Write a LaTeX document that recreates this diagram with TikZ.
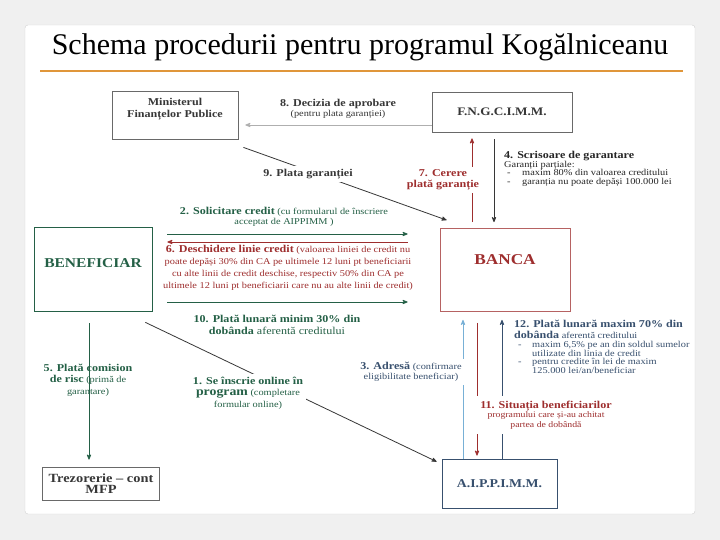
\documentclass[tikz,border=0pt]{standalone}
\usepackage{fontspec}
\setmainfont{Liberation Serif}[FakeStretch=1.15]
\newfontfamily\titlu{Liberation Serif}
\usetikzlibrary{arrows}

\definecolor{verde}{RGB}{36,96,70}
\definecolor{rosu}{RGB}{158,46,46}
\definecolor{albastru}{RGB}{56,80,110}
\definecolor{bleu}{RGB}{120,176,214}
\definecolor{gri}{RGB}{55,55,55}
\definecolor{portocaliu}{RGB}{224,150,58}

\newcommand{\mare}{\fontsize{10.5}{11.5}\selectfont\bfseries}
\newcommand{\mic}{\fontsize{9}{10}\selectfont\mdseries}

\begin{document}
\begin{tikzpicture}[x=1pt,y=-1pt,->,>=stealth',shorten >=0pt,
        box/.style={draw=gri!75,line width=0.8pt,rectangle,inner sep=0pt,align=center,text=gri},
        txt/.style={align=center,inner sep=1pt,text=gri},
        gol/.style={fill=white,inner sep=3pt},
        linie/.style={line width=0.8pt}]

  \fill[gray!12] (0,0) rectangle (720,540);
  \fill[white,draw=gray!35,rounded corners=3pt] (25,25) rectangle (695,514);
  \useasboundingbox (0,0) rectangle (720,540);

  \node[font=\titlu\fontsize{30}{34}\selectfont] (Titlu) at (360,47) {Schema procedurii pentru programul Kogălniceanu};
  \draw[-,portocaliu,line width=2pt] (40,71) -- (683,71);

  \node[box,minimum width=126pt,minimum height=48pt,
        label={[txt,anchor=north,yshift=-6pt,font=\fontsize{10.5}{12}\selectfont\bfseries]north:{Ministerul\\Finanțelor Publice}}] (Ministerul) at (175,115) {};
  \node[box,minimum width=140pt,minimum height=40pt,font=\fontsize{11.5}{14}\selectfont\bfseries] (FNG) at (502,112) {F.N.G.C.I.M.M.};
  \node[box,draw=verde,minimum width=118pt,minimum height=84pt,
        label={[text=verde,anchor=center,yshift=-36pt,font=\fontsize{13.5}{16}\selectfont\bfseries]north:BENEFICIAR}] (Beneficiar) at (93,269) {};
  \node[box,draw=rosu!75,minimum width=130pt,minimum height=83pt,
        label={[text=rosu,anchor=center,yshift=-32pt,font=\fontsize{15}{18}\selectfont\bfseries]north:BANCA}] (Banca) at (505,270) {};
  \node[box,minimum width=117pt,minimum height=33pt,font=\fontsize{12.5}{11}\selectfont\bfseries] (Trezorerie) at (101,483.5) {Trezorerie -- cont\\MFP};
  \node[box,draw=albastru,text=albastru,minimum width=115pt,minimum height=49pt,font=\fontsize{12}{14}\selectfont\bfseries] (AIPPIMM) at (499.5,483.5) {A.I.P.P.I.M.M.};

  \path ([yshift=-13pt]FNG.west) edge[linie,gri!40] ([xshift=7pt,yshift=-10pt]Ministerul.east)
        ([xshift=5pt,yshift=-8pt]Ministerul.south east) edge[linie,gri] ([xshift=7pt,yshift=8pt]Banca.north west)
        ([xshift=-33pt,yshift=6pt]Banca.north) edge[linie,rosu] ([xshift=-30pt,yshift=-6pt]FNG.south)
        ([xshift=-8pt,yshift=-7pt]FNG.south) edge[linie,gri] ([xshift=-11pt,yshift=6pt]Banca.north)

        ([xshift=15pt,yshift=35pt]Beneficiar.east) edge[linie,verde] ([xshift=-32pt,yshift=36pt]Banca.west)
        ([xshift=-32pt,yshift=28pt]Banca.west) edge[linie,rosu] ([xshift=15pt,yshift=27pt]Beneficiar.east)
        ([xshift=15pt,yshift=-33pt]Beneficiar.east) edge[linie,verde] ([xshift=-32pt,yshift=-32pt]Banca.west)

        ([xshift=-4pt,yshift=-12pt]Beneficiar.south) edge[linie,verde] ([xshift=-12pt,yshift=7pt]Trezorerie.north)
        ([xshift=-7pt,yshift=-11pt]Beneficiar.south east) edge[linie,gri] ([xshift=-5pt,yshift=-3pt]AIPPIMM.north west)

        ([xshift=-36.5pt]AIPPIMM.north) edge[linie,bleu] ([xshift=-42pt,yshift=-8pt]Banca.south)
        ([xshift=-28pt,yshift=-11pt]Banca.south) edge[linie,rosu] ([xshift=-22.5pt,yshift=3pt]AIPPIMM.north)
        ([xshift=2.5pt]AIPPIMM.north) edge[linie,albastru] ([xshift=-3pt,yshift=-8pt]Banca.south);

  \node[txt] (Decizia) at (338,109) {{\mare 8. Decizia de aprobare}\\[-1.5pt]{\mic (pentru plata garanției)}};
  \node[txt,gol,font=\mare] (Plata) at (308,174) {9. Plata garanției};
  \node[txt,gol,text=rosu,font=\fontsize{10.5}{10.5}\selectfont\bfseries] (Cerere) at (443,180) {7. Cerere\\plată garanție};
  \node[txt,anchor=north west,align=left,text=black!85,font=\fontsize{9}{8.5}\selectfont] (Scrisoare) at (503,150)
        {{\mare 4. Scrisoare de garantare}\\[-1pt]Garanții parțiale:\\
         \hspace*{3pt}\makebox[15pt][l]{-}maxim 80\% din valoarea creditului\\
         \hspace*{3pt}\makebox[15pt][l]{-}garanția nu poate depăși 100.000 lei};

  \node[txt,text=verde,font=\fontsize{9}{10.5}\selectfont] (Solicitare) at (284,217)
        {{\mare 2. Solicitare credit} (cu formularul de înscriere\\acceptat de AIPPIMM )};
  \node[txt,text=rosu,font=\fontsize{9}{12}\selectfont] (Deschidere) at (288,268)
        {{\mare 6. Deschidere linie credit} (valoarea liniei de credit nu\\
         poate depăși 30\% din CA pe ultimele 12 luni pt beneficiarii\\
         cu alte linii de credit deschise, respectiv 50\% din CA pe\\
         ultimele 12 luni pt beneficiarii care nu au alte linii de credit)};
  \node[txt,text=verde,font=\fontsize{10.5}{12}\selectfont] (Dobanda) at (277,325)
        {\textbf{10. Plată lunară minim 30\% din}\\\textbf{dobânda} aferentă creditului};

  \node[txt,text=verde,font=\fontsize{9}{11.5}\selectfont] (Comision) at (88,380)
        {{\mare 5. Plată comision}\\{\mare de risc} (primă de\\garantare)};
  \node[txt,gol,text=verde,font=\fontsize{9}{11.5}\selectfont] (Inscriere) at (248,393)
        {{\mare 1. Se înscrie online în}\\{\fontsize{12}{11.5}\selectfont\bfseries program} (completare\\formular online)};
  \node[txt,gol,text=albastru,font=\fontsize{9}{10}\selectfont] (Adresa) at (411,372)
        {{\mare 3. Adresă} (confirmare\\eligibilitate beneficiar)};
  \node[txt,anchor=north west,align=left,text=albastru,font=\fontsize{9}{8.6}\selectfont] (Rambursare) at (513,319)
        {{\mare 12. Plată lunară maxim 70\% din}\\[2.5pt]{\mare dobânda} aferentă creditului\\[0.5pt]
         \hspace*{4pt}\makebox[14pt][l]{-}maxim 6,5\% pe an din soldul sumelor\\
         \hspace*{18pt}utilizate din linia de credit\\
         \hspace*{4pt}\makebox[14pt][l]{-}pentru credite în lei de maxim\\
         \hspace*{18pt}125.000 lei/an/beneficiar};
  \node[txt,gol,inner xsep=10pt,inner ysep=5pt,text=rosu,font=\fontsize{8.5}{9.5}\selectfont] (Situatia) at (546,415)
        {{\mare 11. Situația beneficiarilor}\\programului care și-au achitat\\partea de dobândă};
\end{tikzpicture}
\end{document}
